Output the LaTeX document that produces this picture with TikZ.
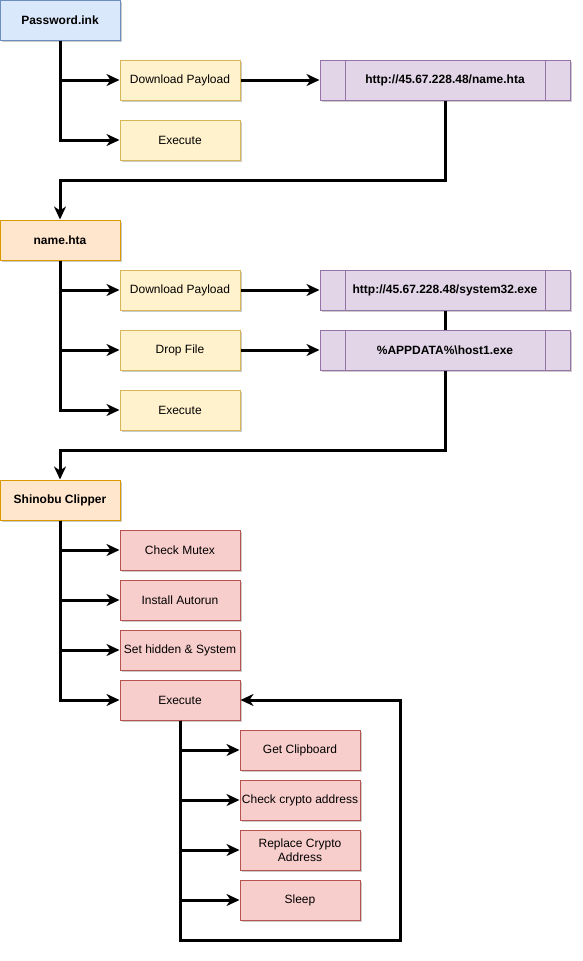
\documentclass[tikz,border=0pt]{standalone}
\usepackage{fontspec}
\setmainfont{Liberation Sans}
\usetikzlibrary{arrows.meta,shadows}

\definecolor{bluefill}{HTML}{DAE8FC}
\definecolor{bluedraw}{HTML}{6C8EBF}
\definecolor{yellowfill}{HTML}{FFF2CC}
\definecolor{yellowdraw}{HTML}{D6B656}
\definecolor{orangefill}{HTML}{FFE6CC}
\definecolor{orangedraw}{HTML}{D79B00}
\definecolor{purplefill}{HTML}{E1D5E7}
\definecolor{purpledraw}{HTML}{9673A6}
\definecolor{redfill}{HTML}{F8CECC}
\definecolor{reddraw}{HTML}{B85450}

\tikzset{
  box/.style={draw, line width=1pt, minimum width=120pt, minimum height=40pt,
    inner sep=1pt, align=center, font=\fontsize{12}{14}\selectfont,
    drop shadow={shadow xshift=2pt, shadow yshift=-2pt, opacity=0.2, fill=black}},
  start/.style={box, fill=bluefill, draw=bluedraw, font=\fontsize{12}{14}\selectfont\bfseries},
  stage/.style={box, fill=orangefill, draw=orangedraw, font=\fontsize{12}{14}\selectfont\bfseries},
  task/.style={box, fill=yellowfill, draw=yellowdraw},
  action/.style={box, fill=redfill, draw=reddraw},
  target/.style={box, fill=purplefill, draw=purpledraw, minimum width=250pt,
    font=\fontsize{12}{14}\selectfont\bfseries,
    path picture={
      \draw[purpledraw, line width=1pt]
        ([xshift=25pt]path picture bounding box.north west) -- ([xshift=25pt]path picture bounding box.south west)
        ([xshift=-25pt]path picture bounding box.north east) -- ([xshift=-25pt]path picture bounding box.south east);
    }},
  flow/.style={line width=3pt, -{Stealth[length=13pt, width=12pt, inset=4pt]}},
  link/.style={line width=3pt}
}

\begin{document}
\begin{tikzpicture}[x=1pt, y=-1pt]
\useasboundingbox (0,0) rectangle (582,961);

% first stage
\node [start] (v1) at (60,20) {Password.ink};
\node [task] (v2) at (180,80) {Download Payload};
\node [task] (v3) at (180,140) {Execute};
\node [target] (v4) at (445,80) {http://45.67.228.48/name.hta};

% second stage
\node [stage] (v5) at (60,240) {name.hta};
\node [task] (v6) at (180,290) {Download Payload};
\node [task] (v7) at (180,350) {Drop File};
\node [task] (v8) at (180,410) {Execute};
\node [target] (v9) at (445,290) {http://45.67.228.48/system32.exe};
\node [target] (v10) at (445,350) {\%APPDATA\%\textbackslash host1.exe};

% clipper
\node [stage] (v11) at (60,500) {Shinobu Clipper};
\node [action] (v12) at (180,550) {Check Mutex};
\node [action] (v13) at (180,600) {Install Autorun};
\node [action] (v14) at (180,650) {Set hidden \& System};
\node [action] (v15) at (180,700) {Execute};
\node [action] (v16) at (300,750) {Get Clipboard};
\node [action] (v17) at (300,800) {Check crypto address};
\node [action] (v18) at (300,850) {Replace Crypto\\Address};
\node [action] (v19) at (300,900) {Sleep};

\coordinate (c1) at (60,180);
\coordinate (c2) at (60,450);
\coordinate (c3) at (400,940);

\draw [flow] (v1.south) |- (v2.west);
\draw [flow] (v1.south) |- (v3.west);
\draw [flow] (v2) -- (v4);
\draw [flow] (v4.south) |- (c1) -- (v5.north);

\draw [flow] (v5.south) |- (v6.west);
\draw [flow] (v5.south) |- (v7.west);
\draw [flow] (v5.south) |- (v8.west);
\draw [flow] (v6) -- (v9);
\draw [flow] (v7) -- (v10);
\draw [link] (v9) -- (v10);
\draw [flow] (v10.south) |- (c2) -- (v11.north);

\draw [flow] (v11.south) |- (v12.west);
\draw [flow] (v11.south) |- (v13.west);
\draw [flow] (v11.south) |- (v14.west);
\draw [flow] (v11.south) |- (v15.west);

\draw [flow] (v15.south) |- (v16.west);
\draw [flow] (v15.south) |- (v17.west);
\draw [flow] (v15.south) |- (v18.west);
\draw [flow] (v15.south) |- (v19.west);
\draw [flow] (v15.south) |- (c3) |- (v15.east);

\end{tikzpicture}
\end{document}
